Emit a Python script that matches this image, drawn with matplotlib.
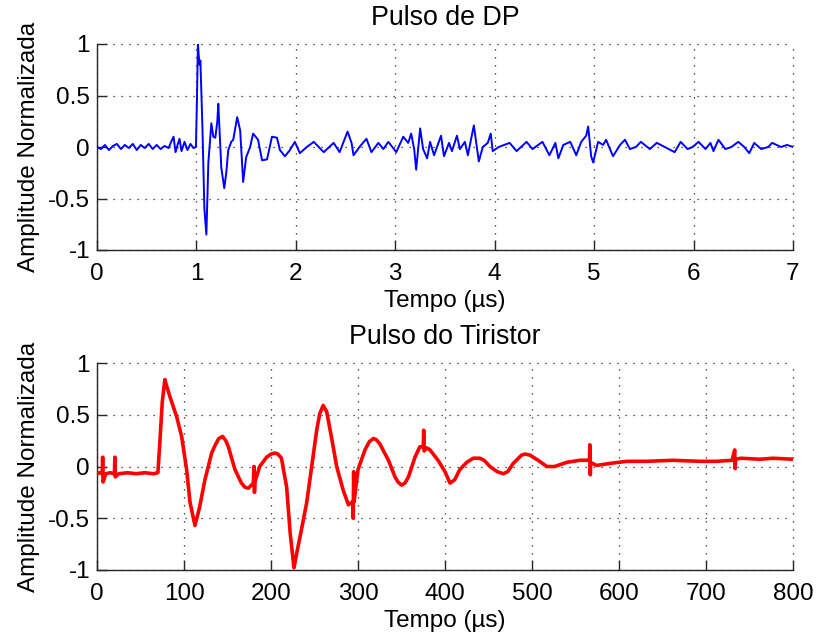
import matplotlib
matplotlib.use("Agg")
import matplotlib.pyplot as plt

plt.rcParams['font.family'] = ['Liberation Sans', 'DejaVu Sans']

# ---- Data: Pulso de DP (time in us, normalized amplitude) ----
t_dp = [0.00, 0.04, 0.08, 0.12, 0.16, 0.20, 0.24, 0.28, 0.32, 0.36, 0.40, 0.44,
        0.48, 0.52, 0.56, 0.60, 0.64, 0.68, 0.72, 0.75, 0.77, 0.79, 0.81, 0.83,
        0.85, 0.88, 0.91, 0.94, 0.97, 0.995, 1.005, 1.015, 1.03, 1.04, 1.06, 1.08,
        1.10, 1.12, 1.15, 1.17, 1.19, 1.21, 1.22, 1.25, 1.28, 1.30, 1.32, 1.35,
        1.37, 1.41, 1.44, 1.47, 1.50, 1.54, 1.57, 1.62, 1.66, 1.71, 1.76, 1.81,
        1.84, 1.89, 1.94, 1.99, 2.04, 2.11, 2.18, 2.23, 2.28, 2.38, 2.44, 2.52,
        2.56, 2.58, 2.64, 2.71, 2.76, 2.83, 2.88, 2.93, 3.01, 3.08, 3.13, 3.16,
        3.19, 3.21, 3.25, 3.28, 3.32, 3.35, 3.39, 3.46, 3.49, 3.54, 3.57, 3.62,
        3.65, 3.70, 3.73, 3.79, 3.84, 3.88, 3.93, 3.96, 3.98, 4.04, 4.15, 4.22,
        4.32, 4.38, 4.48, 4.55, 4.61, 4.64, 4.69, 4.76, 4.82, 4.87, 4.92, 4.94,
        4.97, 4.99, 5.04, 5.09, 5.12, 5.19, 5.26, 5.31, 5.36, 5.42, 5.47, 5.56,
        5.63, 5.71, 5.81, 5.87, 5.94, 5.99, 6.05, 6.12, 6.17, 6.20, 6.25, 6.32,
        6.38, 6.45, 6.51, 6.56, 6.61, 6.68, 6.75, 6.79, 6.88, 6.94, 7.00]
a_dp = [0.00, -0.02, 0.02, -0.03, 0.01, 0.03, -0.02, 0.02, -0.01, 0.03, -0.03, 0.02,
        -0.01, 0.03, -0.02, 0.02, -0.02, 0.01, -0.01, 0.06, 0.10, -0.05, 0.02, 0.08,
        -0.04, 0.05, -0.03, 0.03, -0.01, 0.00, 0.45, 1.00, 0.80, 0.84, 0.20, -0.60,
        -0.85, -0.15, 0.23, 0.10, 0.09, 0.25, 0.42, -0.20, -0.40, -0.25, -0.03, 0.05,
        0.07, 0.29, 0.16, -0.34, -0.10, 0.00, 0.13, 0.07, -0.13, -0.12, 0.10, 0.09,
        -0.03, -0.09, -0.03, 0.05, -0.06, 0.00, 0.05, 0.00, -0.05, 0.04, -0.05, 0.15,
        0.04, -0.08, 0.00, 0.08, -0.05, 0.04, -0.02, 0.05, -0.05, 0.10, 0.04, 0.13,
        -0.02, -0.22, 0.18, -0.02, -0.11, 0.05, -0.08, 0.11, -0.09, 0.04, -0.04, 0.11,
        -0.02, 0.05, -0.08, 0.21, -0.14, 0.00, 0.04, 0.13, -0.04, 0.00, 0.04, -0.04,
        0.05, -0.02, 0.05, -0.08, 0.04, -0.11, 0.02, 0.05, -0.08, 0.05, 0.11, 0.20,
        -0.09, -0.15, 0.05, 0.02, 0.07, -0.09, 0.02, 0.07, -0.02, 0.00, 0.05, -0.02,
        0.04, 0.00, -0.05, 0.05, -0.02, 0.00, 0.05, -0.02, 0.04, -0.04, 0.07, -0.02,
        0.00, 0.05, 0.00, -0.06, 0.04, -0.02, 0.00, 0.04, 0.00, 0.02, 0.00]

# ---- Data: Pulso do Tiristor (time in us, normalized amplitude) ----
t_tir = [0, 3, 6, 6.5, 7, 10, 15, 20, 20.5, 21, 25, 35, 45, 55, 65, 70, 72, 75, 78,
         80, 84, 91.6, 97.3, 103, 107, 112.6, 118, 124, 131.8, 136, 140, 144.4, 148,
         151, 158.6, 166, 170, 174, 179.7, 180.5, 181, 181.5, 187, 195, 200, 204.6,
         208, 212, 218, 222, 226.4, 229.5, 235, 241, 246.8, 252.5, 256, 260, 264,
         270, 275.5, 283, 289, 294, 294.5, 295, 295.5, 300, 308, 313, 317.6, 321,
         325, 335, 342.5, 346, 350, 354, 358, 365.5, 371, 375, 375.5, 376, 379,
         382.8, 392, 400, 405.7, 411, 417, 425, 432.5, 440, 445, 451.7, 460, 467,
         472, 478.5, 488, 492, 497.7, 507, 517, 526, 540, 555, 566, 566.5, 567,
         567.5, 574, 589.7, 609, 632, 662, 693, 712, 730, 733, 733.5, 734, 740, 762,
         777, 800]
a_tir = [-0.07, -0.06, -0.07, 0.09, -0.15, -0.07, -0.06, -0.07, 0.09, -0.10, -0.07,
         -0.06, -0.07, -0.06, -0.07, -0.06, 0.20, 0.62, 0.84, 0.78, 0.67, 0.48, 0.29,
         -0.03, -0.35, -0.57, -0.39, -0.13, 0.13, 0.21, 0.27, 0.29, 0.25, 0.19,
         -0.03, -0.16, -0.20, -0.21, -0.16, 0.00, -0.25, -0.15, 0.00, 0.09, 0.12,
         0.13, 0.12, 0.08, -0.20, -0.64, -0.98, -0.84, -0.61, -0.35, 0.00, 0.35, 0.51,
         0.59, 0.53, 0.26, 0.00, -0.23, -0.37, -0.34, -0.50, -0.05, -0.34, -0.03,
         0.16, 0.24, 0.27, 0.26, 0.22, 0.06, -0.10, -0.15, -0.18, -0.16, -0.10, 0.09,
         0.19, 0.19, 0.35, 0.15, 0.18, 0.16, 0.06, -0.05, -0.16, -0.13, -0.03, 0.04,
         0.08, 0.08, 0.06, 0.00, -0.05, -0.07, -0.05, 0.03, 0.11, 0.12, 0.11, 0.06,
         0.00, 0.00, 0.04, 0.06, 0.06, 0.21, -0.08, 0.04, 0.01, 0.03, 0.05, 0.05,
         0.06, 0.05, 0.05, 0.06, 0.16, -0.02, 0.07, 0.08, 0.07, 0.08, 0.07]

titles = ["Pulso de DP", "Pulso do Tiristor"]
xlabel = "Tempo (\u00b5s)"
ylabel = "Amplitude Normalizada"
xlims = [(0, 7), (0, 800)]
xticks = [list(range(0, 8)), list(range(0, 801, 100))]
yticks = [-1, -0.5, 0, 0.5, 1]
yticklabels = ["-1", "-0.5", "0", "0.5", "1"]

W, H = 817, 641
fig = plt.figure(figsize=(W / 100, H / 100), dpi=100)
ax1 = fig.add_axes([97 / W, 1 - 250 / H, 696 / W, 206 / H])
ax2 = fig.add_axes([97 / W, 1 - 570 / H, 696 / W, 207 / H])

ax1.plot(t_dp, a_dp, color=(0, 0, 1), lw=1.4, zorder=3)
ax2.plot(t_tir, a_tir, color=(1, 0, 0), lw=2.6, zorder=3)

fs = 17.5
for ax, title, xl, xt in zip([ax1, ax2], titles, xlims, xticks):
    ax.set_xlim(*xl)
    ax.set_ylim(-1, 1)
    ax.set_xticks(xt)
    ax.set_xticklabels([str(v) for v in xt])
    ax.set_yticks(yticks)
    ax.set_yticklabels(yticklabels)
    ax.spines['top'].set_visible(False)
    ax.spines['right'].set_visible(False)
    for s in ['left', 'bottom']:
        ax.spines[s].set_linewidth(1.0)
        ax.spines[s].set_color('#262626')
    ax.tick_params(direction='in', length=7, width=1.0, labelsize=fs,
                   colors='#262626', labelcolor='black')
    ax.tick_params(axis='x', pad=9)
    ax.tick_params(axis='y', pad=5)
    ax.grid(True, color='#222222', linestyle=(0, (1, 5.4)), linewidth=0.9)
    for gl in ax.get_xgridlines() + ax.get_ygridlines():
        gl.set_clip_on(False)
    ax.set_title(title, fontsize=19.3, pad=14)
    ax.set_xlabel(xlabel, fontsize=fs, labelpad=4)
    ax.set_ylabel(ylabel, fontsize=fs, labelpad=6)

fig.savefig("out.png", dpi=100)
